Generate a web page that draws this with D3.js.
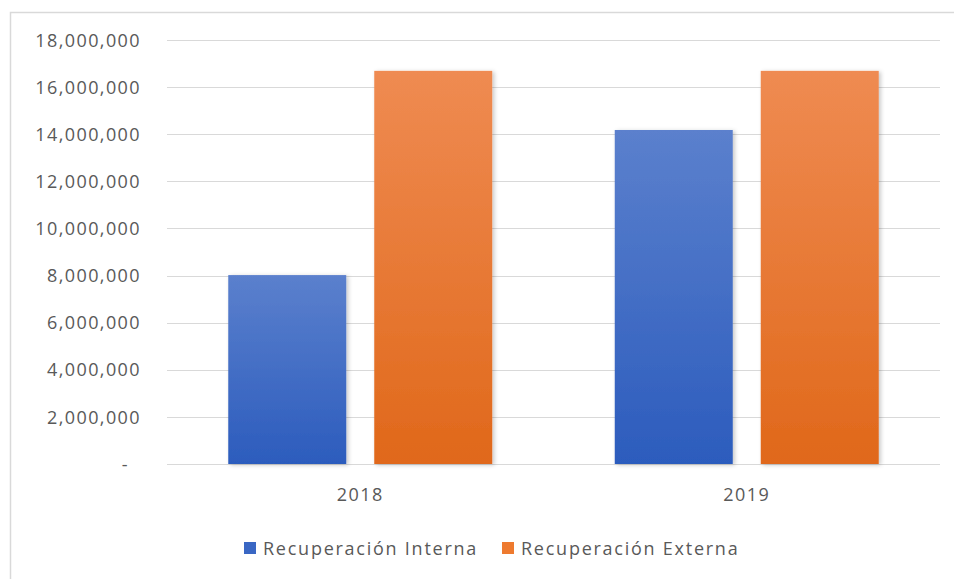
<!DOCTYPE html>
<html>
<head>
<meta charset="utf-8">
<script src="https://cdn.jsdelivr.net/npm/d3@7"></script>
<style>
  html, body { margin: 0; padding: 0; background: #fff; }
  svg { display: block; }
  text { font-family: "Open Sans", "Noto Sans", sans-serif; fill: #595959; letter-spacing: 1.4px; }
  .legend text { letter-spacing: 1.75px; }
</style>
</head>
<body>
<svg id="chart" width="954" height="579"></svg>
<script>
// Recovered amounts per year, split by source
const years = ["2018", "2019"];
const seriesNames = ["Recuperación Interna", "Recuperación Externa"];
const interna = [8020000, 14180000];
const externa = [16690000, 16690000];
const yTicks = [0, 2000000, 4000000, 6000000, 8000000, 10000000, 12000000, 14000000, 16000000, 18000000];

const rows = years.map((y, i) => ({ year: y, values: [interna[i], externa[i]] }));

const svg = d3.select("#chart");
const W = 954, H = 579;
const plot = { left: 167, right: 940, top: 40, bottom: 464 };

const defs = svg.append("defs");
const gradients = [
  { id: "g0", top: "#5b80cd", bottom: "#2c5cbd" },
  { id: "g1", top: "#ef8b52", bottom: "#e0681a" }
];
gradients.forEach(g => {
  const lg = defs.append("linearGradient").attr("id", g.id)
    .attr("x1", 0).attr("y1", 0).attr("x2", 0).attr("y2", 1);
  lg.append("stop").attr("offset", "0%").attr("stop-color", g.top);
  lg.append("stop").attr("offset", "100%").attr("stop-color", g.bottom);
});
const shadow = defs.append("filter").attr("id", "shadow")
  .attr("x", "-10%").attr("y", "-10%").attr("width", "130%").attr("height", "120%");
shadow.append("feDropShadow").attr("dx", 2).attr("dy", 1)
  .attr("stdDeviation", 2).attr("flood-color", "#000").attr("flood-opacity", 0.22);

// Outer frame of the chart area
svg.append("rect")
  .attr("x", 10.5).attr("y", 12.5).attr("width", W).attr("height", H)
  .attr("fill", "none").attr("stroke", "#d9d9d9").attr("stroke-width", 1.5);

const y = d3.scaleLinear().domain([0, 18000000]).range([plot.bottom, plot.top]);
const x0 = d3.scaleBand().domain(years).range([plot.left, plot.right]).padding(0);
const x1 = d3.scaleBand().domain(seriesNames).range([0, x0.bandwidth()])
  .paddingInner(0.1918).paddingOuter(0.4196);

// Horizontal gridlines
svg.append("g").selectAll("line").data(yTicks).join("line")
  .attr("x1", plot.left).attr("x2", plot.right)
  .attr("y1", d => Math.round(y(d)) + 0.5).attr("y2", d => Math.round(y(d)) + 0.5)
  .attr("stroke", "#d9d9d9").attr("stroke-width", 1.2);

// Value axis labels
const fmt = d3.format(",");
const yAxis = d3.axisLeft(y).tickValues(yTicks)
  .tickFormat(d => d === 0 ? "-" : fmt(d)).tickSize(0).tickPadding(0);
const yg = svg.append("g").attr("transform", `translate(141,0)`).call(yAxis);
yg.select(".domain").remove();
yg.selectAll("text")
  .attr("font-size", 18).attr("fill", "#595959")
  .attr("dy", "0.34em")
  .attr("dx", d => d === 0 ? -12 : 0);

// Bars
const groups = svg.append("g").selectAll("g").data(rows).join("g")
  .attr("transform", d => `translate(${x0(d.year)},0)`);
groups.selectAll("rect").data(d => d.values.map((v, i) => ({ v, i })))
  .join("rect")
  .attr("x", d => x1(seriesNames[d.i]))
  .attr("width", x1.bandwidth())
  .attr("y", d => y(d.v))
  .attr("height", d => y(0) - y(d.v))
  .attr("fill", d => `url(#g${d.i})`)
  .attr("filter", "url(#shadow)");

// Category axis labels
const xAxis = d3.axisBottom(x0).tickSize(0).tickPadding(0);
const xg = svg.append("g").attr("transform", `translate(0,${plot.bottom})`).call(xAxis);
xg.select(".domain").remove();
xg.selectAll("text").attr("font-size", 18).attr("fill", "#595959").attr("dy", "0").attr("y", 37);

// Legend
const legendColors = ["#3a67c4", "#ee7a2f"];
const legendItems = [{ x: 244, name: seriesNames[0] }, { x: 502, name: seriesNames[1] }];
const lg = svg.append("g").attr("class", "legend");
legendItems.forEach((it, i) => {
  lg.append("rect").attr("x", it.x).attr("y", 542).attr("width", 12).attr("height", 12)
    .attr("fill", legendColors[i]);
  lg.append("text").attr("x", it.x + 19).attr("y", 555)
    .attr("font-size", 18).text(it.name);
});
</script>
</body>
</html>
